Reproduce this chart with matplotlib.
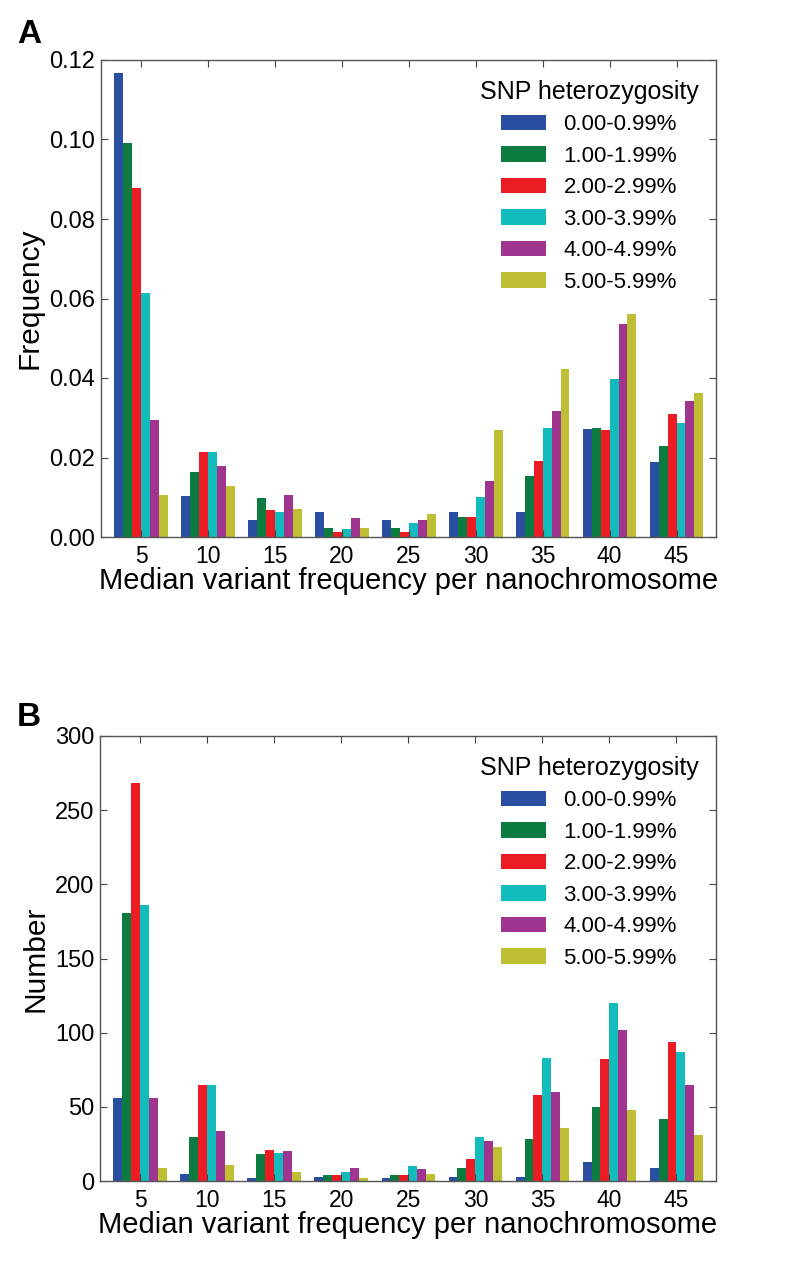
import numpy as np
import matplotlib
matplotlib.use('Agg')
from matplotlib import pyplot as plt

plt.rcParams['font.family'] = ['Liberation Sans', 'DejaVu Sans']

bins = [5, 10, 15, 20, 25, 30, 35, 40, 45]
labels = ['0.00-0.99%', '1.00-1.99%', '2.00-2.99%', '3.00-3.99%', '4.00-4.99%', '5.00-5.99%']
colors = ['#2a4fa0', '#0b7b3f', '#ec1c24', '#12bcbc', '#a0358f', '#bfbf35']

# panel A: frequency per heterozygosity class (one list per class, over bins)
freq_000 = [0.1167, 0.0104, 0.0042, 0.0063, 0.0042, 0.0063, 0.0063, 0.0272, 0.0188]
freq_100 = [0.0990, 0.0164, 0.0099, 0.0022, 0.0022, 0.0050, 0.0153, 0.0273, 0.0230]
freq_200 = [0.0879, 0.0213, 0.0069, 0.0013, 0.0013, 0.0050, 0.0190, 0.0269, 0.0309]
freq_300 = [0.0615, 0.0214, 0.0063, 0.0020, 0.0035, 0.0100, 0.0274, 0.0397, 0.0288]
freq_400 = [0.0294, 0.0179, 0.0106, 0.0048, 0.0042, 0.0142, 0.0316, 0.0536, 0.0342]
freq_500 = [0.0106, 0.0129, 0.0070, 0.0023, 0.0059, 0.0269, 0.0422, 0.0562, 0.0363]

# panel B: counts
num_000 = [56, 5, 2, 3, 2, 3, 3, 13, 9]
num_100 = [181, 30, 18, 4, 4, 9, 28, 50, 42]
num_200 = [268, 65, 21, 4, 4, 15, 58, 82, 94]
num_300 = [186, 65, 19, 6, 10, 30, 83, 120, 87]
num_400 = [56, 34, 20, 9, 8, 27, 60, 102, 65]
num_500 = [9, 11, 6, 2, 5, 23, 36, 48, 31]

W, H = 797, 1282
fig = plt.figure(figsize=(W / 100, H / 100), dpi=100)


def grouped(ax, series, ylim, yticks, yfmt, ylabel):
    x = np.array(bins, dtype=float)
    w = 4.0 / 6
    for i, (vals, c, lab) in enumerate(zip(series, colors, labels)):
        ax.bar(x + (i - 2.5) * w, vals, width=w, color=c, edgecolor='none', label=lab)
    ax.set_xlim(2.0, 47.95)
    ax.set_ylim(*ylim)
    ax.set_xticks(bins)
    ax.set_yticks(yticks)
    ax.set_yticklabels([yfmt.format(v) for v in yticks])
    ax.tick_params(direction='in', top=True, right=True, length=5, width=0.8,
                   color='#444444')
    ax.tick_params(axis='x', labelsize=16.5, pad=6)
    ax.tick_params(axis='y', labelsize=17, pad=4)
    for s in ax.spines.values():
        s.set_color('#555555')
        s.set_linewidth(1.0)
    ax.set_xlabel('Median variant frequency per nanochromosome', fontsize=21, labelpad=-1)
    ax.set_ylabel(ylabel, fontsize=21.5, labelpad=4)
    leg = ax.legend(title='SNP heterozygosity', loc='upper right', bbox_to_anchor=(1.004, 1.0),
                    frameon=False, fontsize=16, title_fontsize=18, handlelength=2.0,
                    handleheight=0.68, handletextpad=0.8, labelspacing=0.47)
    return leg


axA = fig.add_axes([101 / W, 1 - 537 / H, 615 / W, 477 / H])
grouped(axA, [freq_000, freq_100, freq_200, freq_300, freq_400, freq_500],
        (0, 0.12), [0, 0.02, 0.04, 0.06, 0.08, 0.10, 0.12], '{:.2f}', 'Frequency')

axB = fig.add_axes([100 / W, 1 - 1181 / H, 616 / W, 445 / H])
grouped(axB, [num_000, num_100, num_200, num_300, num_400, num_500],
        (0, 300), [0, 50, 100, 150, 200, 250, 300], '{:d}', 'Number')

fig.text(17 / W, 1 - 43 / H, 'A', fontsize=24, fontweight='bold', va='baseline')
fig.text(17 / W, 1 - 726 / H, 'B', fontsize=24, fontweight='bold', va='baseline')

fig.savefig('out.png', dpi=100)
